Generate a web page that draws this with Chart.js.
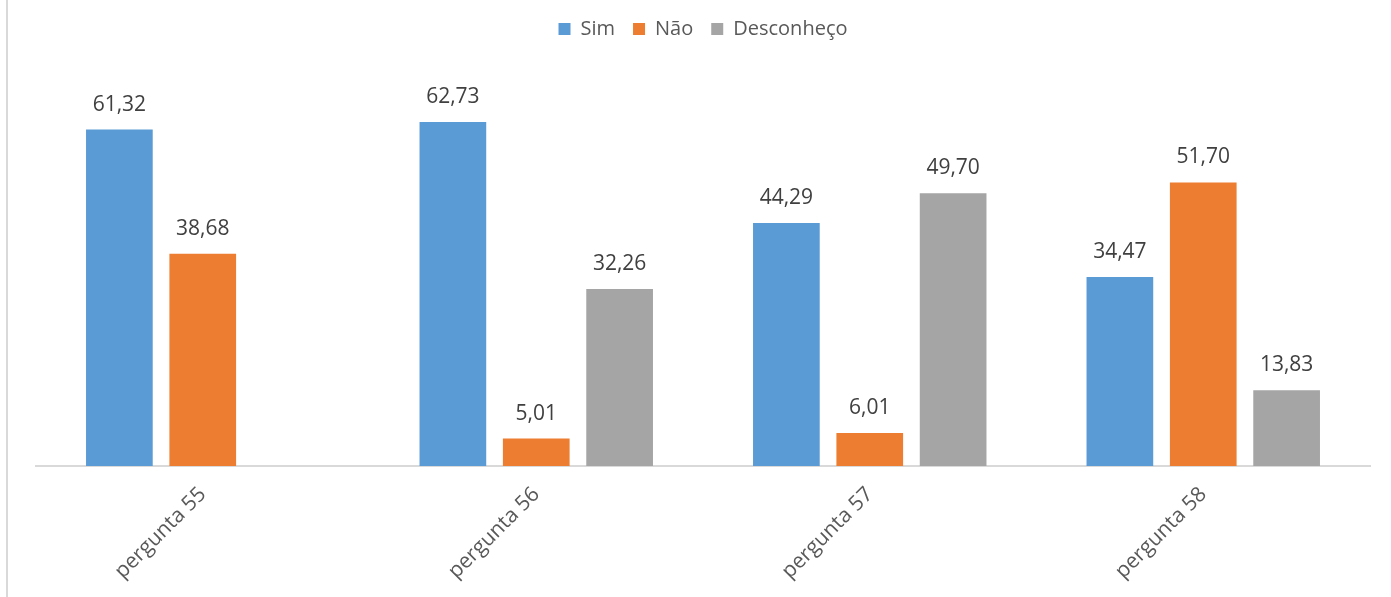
<!DOCTYPE html>
<html>
<head>
<meta charset="utf-8">
<script src="https://cdn.jsdelivr.net/npm/chart.js@4/dist/chart.umd.min.js"></script>
<style>
  html, body { margin: 0; padding: 0; background: #fff; }
  #wrap { position: relative; width: 1391px; height: 597px; }
  #frame { position: absolute; left: 6px; top: 0; width: 2px; height: 597px; background: #d9d9d9; }
  #myChart { position: absolute; left: 0; top: 0; }
</style>
</head>
<body>
<div id="wrap">
  <div id="frame"></div>
  <canvas id="myChart" width="1391" height="597"></canvas>
</div>
<script>
const categorias = ['pergunta 55', 'pergunta 56', 'pergunta 57', 'pergunta 58'];
const sim = [61.32, 62.73, 44.29, 34.47];
const nao = [38.68, 5.01, 6.01, 51.70];
const desconheco = [null, 32.26, 49.70, 13.83];

const fonte = '"Open Sans", "Liberation Sans", sans-serif';

// rotulos de dados em cima das barras
const rotulos = {
  id: 'rotulos',
  afterDatasetsDraw(chart) {
    const c = chart.ctx;
    c.save();
    c.font = '21px ' + fonte;
    c.fillStyle = '#404040';
    c.textAlign = 'center';
    c.textBaseline = 'middle';
    chart.data.datasets.forEach((ds, i) => {
      chart.getDatasetMeta(i).data.forEach((bar, j) => {
        const v = ds.data[j];
        if (v === null || v === undefined) return;
        c.fillText(v.toFixed(2).replace('.', ','), bar.x, bar.y - 25);
      });
    });
    c.restore();
  }
};

// espaco extra abaixo da legenda
const espacoLegenda = {
  id: 'espacoLegenda',
  beforeInit(chart) {
    const fitOriginal = chart.legend.fit;
    chart.legend.fit = function () {
      fitOriginal.bind(chart.legend)();
      this.height += 33;
    };
  }
};

const ctx = document.getElementById('myChart');

const grafico = new Chart(ctx, {
  type: 'bar',
  data: {
    labels: categorias,
    datasets: [
      { label: 'Sim', data: sim, backgroundColor: '#5B9BD5' },
      { label: 'Não', data: nao, backgroundColor: '#ED7D31' },
      { label: 'Desconheço', data: desconheco, backgroundColor: '#A5A5A5' }
    ]
  },
  options: {
    responsive: false,
    animation: false,
    categoryPercentage: 0.75,
    barPercentage: 0.8,
    layout: { padding: { left: 36, right: 21, top: 1, bottom: 5 } },
    plugins: {
      tooltip: { enabled: false },
      legend: {
        position: 'top',
        labels: {
          boxWidth: 12,
          boxHeight: 12,
          padding: 18,
          color: '#595959',
          font: { size: 20, family: fonte }
        }
      }
    },
    scales: {
      x: {
        grid: { display: false },
        border: { color: '#d9d9d9', width: 2 },
        ticks: {
          minRotation: 45,
          maxRotation: 45,
          padding: 8,
          color: '#595959',
          font: { size: 21, family: fonte }
        }
      },
      y: {
        display: false,
        min: 0,
        max: 70
      }
    }
  },
  plugins: [rotulos, espacoLegenda]
});
</script>
</body>
</html>
